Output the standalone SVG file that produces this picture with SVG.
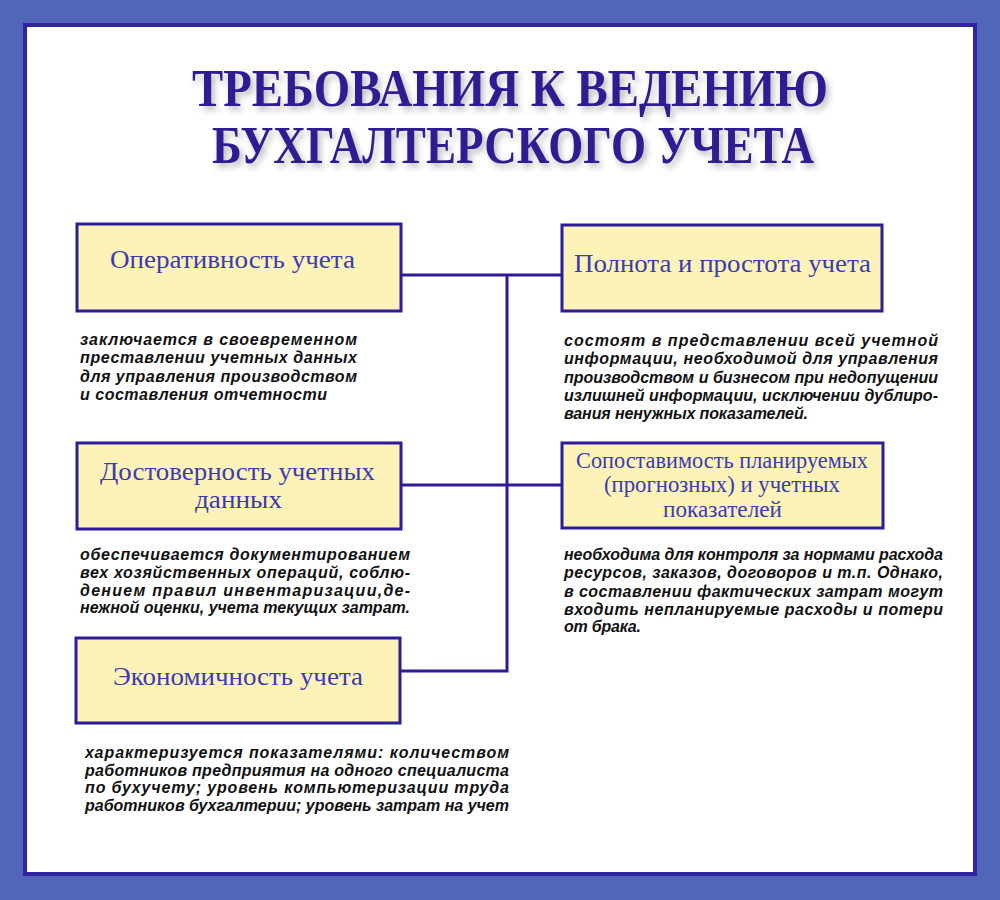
<svg xmlns="http://www.w3.org/2000/svg" width="1000" height="900" viewBox="0 0 1000 900">
<defs>
<filter id="shadow" x="-10%" y="-30%" width="120%" height="160%">
<feGaussianBlur in="SourceAlpha" stdDeviation="3"/>
<feOffset dx="3" dy="4" result="b"/>
<feComponentTransfer in="b" result="s"><feFuncA type="linear" slope="0.45"/></feComponentTransfer>
<feFlood flood-color="#666"/>
<feComposite in2="s" operator="in" result="sh"/>
<feMerge><feMergeNode in="sh"/><feMergeNode in="SourceGraphic"/></feMerge>
</filter>
</defs>
<style>
.box{fill:#FDF2B8;stroke:#2C1C98;stroke-width:3}
.bt{font-family:"Liberation Serif","DejaVu Serif",serif;font-size:25px;fill:#3A3CB0}
.bs{font-size:23px}
.dt{font-family:"Liberation Sans",Arial,sans-serif;font-size:16px;font-weight:bold;font-style:italic;fill:#111}
.title{font-family:"Liberation Serif","DejaVu Serif",serif;font-size:53px;font-weight:bold;fill:#2E1F92}
.conn{stroke:#2C1C98;stroke-width:3;fill:none}
</style>
<rect x="0" y="0" width="1000" height="900" fill="#5165B9"/>
<rect x="25" y="25" width="950" height="849" fill="#FFFFFF" stroke="#3224A0" stroke-width="4"/>

<g id="title" filter="url(#shadow)">
<text class="title" x="192" y="106" textLength="636" lengthAdjust="spacingAndGlyphs">ТРЕБОВАНИЯ К ВЕДЕНИЮ</text>
<text class="title" x="212" y="163" textLength="602" lengthAdjust="spacingAndGlyphs">БУХГАЛТЕРСКОГО УЧЕТА</text>
</g>

<g id="connectors">
<polyline class="conn" points="401,275 562,275"/>
<polyline class="conn" points="507,275 507,671 400,671"/>
<polyline class="conn" points="401,485 562,485"/>
</g>

<g id="node-operativnost">
<rect class="box" x="77" y="224" width="324" height="87"/>
<text class="bt" x="110" y="268" textLength="245" lengthAdjust="spacingAndGlyphs">Оперативность учета</text>
<text class="dt" x="80" y="345" textLength="277" lengthAdjust="spacing">заключается в своевременном</text>
<text class="dt" x="80" y="363" textLength="277" lengthAdjust="spacing">преставлении учетных данных</text>
<text class="dt" x="80" y="382" textLength="277" lengthAdjust="spacing">для управления производством</text>
<text class="dt" x="80" y="400" textLength="247" lengthAdjust="spacing">и составления отчетности</text>
</g>

<g id="node-polnota">
<rect class="box" x="562" y="225" width="320" height="86"/>
<text class="bt" x="574" y="272" textLength="297" lengthAdjust="spacingAndGlyphs">Полнота и простота учета</text>
<text class="dt" x="564" y="346" textLength="374" lengthAdjust="spacing">состоят в представлении всей учетной</text>
<text class="dt" x="564" y="364" textLength="374" lengthAdjust="spacing">информации, необходимой для управления</text>
<text class="dt" x="564" y="383" textLength="374" lengthAdjust="spacing">производством и бизнесом при недопущении</text>
<text class="dt" x="564" y="401" textLength="374" lengthAdjust="spacing">излишней информации, исключении дублиро-</text>
<text class="dt" x="564" y="419" textLength="244" lengthAdjust="spacing">вания ненужных показателей.</text>
</g>

<g id="node-dostovernost">
<rect class="box" x="77" y="443" width="324" height="86"/>
<text class="bt" x="100" y="480" textLength="275" lengthAdjust="spacingAndGlyphs">Достоверность учетных</text>
<text class="bt" x="195" y="508" textLength="87" lengthAdjust="spacingAndGlyphs">данных</text>
<text class="dt" x="80" y="560" textLength="330" lengthAdjust="spacing">обеспечивается документированием</text>
<text class="dt" x="80" y="578" textLength="330" lengthAdjust="spacing">вех хозяйственных операций, соблю-</text>
<text class="dt" x="80" y="596" textLength="330" lengthAdjust="spacing">дением правил инвентаризации,де-</text>
<text class="dt" x="80" y="613" textLength="330" lengthAdjust="spacing">нежной оценки, учета текущих затрат.</text>
</g>

<g id="node-sopostavimost">
<rect class="box" x="562" y="443" width="321" height="85"/>
<text class="bt bs" x="576" y="468" textLength="292" lengthAdjust="spacingAndGlyphs">Сопоставимость планируемых</text>
<text class="bt bs" x="604" y="492" textLength="236" lengthAdjust="spacingAndGlyphs">(прогнозных) и учетных</text>
<text class="bt bs" x="663" y="517" textLength="119" lengthAdjust="spacingAndGlyphs">показателей</text>
<text class="dt" x="564" y="560" textLength="379" lengthAdjust="spacing">необходима для контроля за нормами расхода</text>
<text class="dt" x="564" y="578" textLength="379" lengthAdjust="spacing">ресурсов, заказов, договоров и т.п. Однако,</text>
<text class="dt" x="564" y="597" textLength="379" lengthAdjust="spacing">в составлении фактических затрат могут</text>
<text class="dt" x="564" y="615" textLength="379" lengthAdjust="spacing">входить непланируемые расходы и потери</text>
<text class="dt" x="564" y="632" textLength="77" lengthAdjust="spacing">от брака.</text>
</g>

<g id="node-ekonomichnost">
<rect class="box" x="76" y="638" width="324" height="85"/>
<text class="bt" x="113" y="685" textLength="250" lengthAdjust="spacingAndGlyphs">Экономичность учета</text>
<text class="dt" x="85" y="758" textLength="424" lengthAdjust="spacing">характеризуется показателями: количеством</text>
<text class="dt" x="85" y="776" textLength="424" lengthAdjust="spacing">работников предприятия на одного специалиста</text>
<text class="dt" x="85" y="793" textLength="424" lengthAdjust="spacing">по бухучету; уровень компьютеризации труда</text>
<text class="dt" x="85" y="811" textLength="424" lengthAdjust="spacing">работников бухгалтерии; уровень затрат на учет</text>
</g>
</svg>
